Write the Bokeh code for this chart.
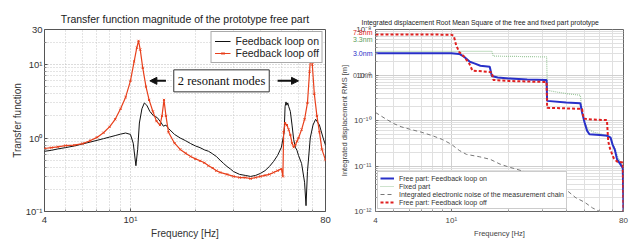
from bokeh.plotting import figure
from bokeh.layouts import row
from bokeh.models import (FixedTicker, Label, Arrow, NormalHead, Legend, LegendItem, Range1d,
                          LogAxis)
from bokeh.embed import file_html
from bokeh.resources import INLINE

# ---------------- Left chart data: transfer function magnitude ----------------
freq_on = [4.0, 4.3, 4.6, 5.0, 5.5, 6.0, 6.5, 7.0, 7.5, 8.0, 8.5, 9.0, 9.5, 10.0, 10.3, 10.6, 10.8,
           11.0, 11.3, 11.6, 11.9, 12.3, 12.8, 13.3, 13.8, 14.2, 14.6, 15.0, 16.0, 17.0, 18.0, 19.0,
           20.0, 21.0, 22.0, 23.0, 24.0, 25.0, 26.0, 27.0, 28.0, 29.0, 30.0, 32.0, 34.0, 36.0, 38.0,
           40.0, 42.0, 44.0, 46.0, 48.0, 50.0, 51.5, 52.0, 52.5, 53.0, 53.5, 54.0, 55.0, 56.0, 57.0,
           58.0, 59.0, 60.0, 62.0, 64.0, 65.0, 66.0, 68.0, 70.0, 72.0, 75.0, 78.0, 80.0]
tf_on = [0.66, 0.68, 0.71, 0.74, 0.78, 0.83, 0.88, 0.93, 0.98, 1.03, 1.08, 1.13, 1.17, 1.12, 0.85, 0.42, 0.70,
         1.6, 2.5, 3.0, 2.8, 2.3, 2.0, 1.9, 1.65, 1.45, 1.5, 1.35, 1.12, 1.0, 0.92, 0.84,
         0.78, 0.74, 0.69, 0.66, 0.61, 0.56, 0.50, 0.45, 0.41, 0.38, 0.35, 0.32, 0.31, 0.30, 0.31,
         0.33, 0.36, 0.41, 0.48, 0.58, 0.75, 1.2, 2.7, 3.1, 2.8, 3.0, 2.7, 2.3, 1.5, 0.95,
         0.75, 0.68, 0.58, 0.45, 0.25, 0.12, 0.35, 1.0, 1.5, 1.8, 1.5, 1.0, 0.8]

freq_off = [4.0, 4.3, 4.6, 5.0, 5.5, 6.0, 6.5, 7.0, 7.5, 8.0, 8.5, 9.0, 9.5, 10.0, 10.4, 10.7, 10.9,
            11.1, 11.4, 11.8, 12.2, 12.7, 13.2, 13.7, 14.0, 14.3, 14.6, 15.0, 16.0, 17.0, 18.0, 19.0,
            20.0, 21.0, 22.0, 23.0, 24.0, 25.0, 26.0, 28.0, 30.0, 32.0, 34.0, 36.0, 38.0, 40.0, 42.0,
            44.0, 46.0, 48.0, 50.0, 50.8, 51.2, 52.0, 53.0, 54.0, 55.0, 56.0, 57.0, 58.0, 59.0, 60.0,
            62.0, 64.0, 66.0, 67.5, 68.5, 69.5, 71.0, 73.0, 75.0, 77.0, 80.0]
tf_off = [0.72, 0.74, 0.76, 0.79, 0.80, 0.84, 0.92, 1.02, 1.18, 1.42, 1.8, 2.5, 3.6, 6.0, 11.0, 17.0, 21.0,
          16.0, 9.0, 5.0, 3.3, 2.3, 1.7, 1.5, 2.0, 3.3, 2.0, 1.2, 0.85, 0.70, 0.62, 0.56,
          0.52, 0.49, 0.46, 0.42, 0.39, 0.36, 0.34, 0.32, 0.30, 0.29, 0.29, 0.28, 0.29, 0.30, 0.31,
          0.32, 0.34, 0.36, 0.38, 0.30, 1.2, 1.6, 1.5, 1.3, 1.1, 0.85, 0.75, 0.80, 0.90, 1.0,
          1.3, 1.8, 3.0, 8.0, 15.0, 10.0, 4.0, 2.0, 1.2, 0.7, 0.5]

left_x_ticks = [4, 10, 80]
left_x_minor = [5, 6, 7, 8, 9, 20, 30, 40, 50, 60, 70]
left_x_labels = {4: "4", 10: "10\u00b9", 80: "80"}
left_y_ticks = [0.1, 1, 10, 30]
left_y_minor = [0.2, 0.3, 0.4, 0.5, 0.6, 0.7, 0.8, 0.9, 2, 3, 4, 5, 6, 7, 8, 9, 20]
left_y_labels = {0.1: "10\u207b\u00b9", 1: "10\u2070", 10: "10\u00b9", 30: "30"}

# ---------------- Right chart data: integrated displacement RMS ----------------
freq_free_on = [4.0, 10.0, 11.0, 11.7, 12.5, 13.2, 14.2, 15.9, 16.3, 17.5, 20.0, 25.0, 31.6, 31.8, 40.0,
                47.5, 48.5, 50.0, 51.5, 53.0, 60.0, 66.0, 68.5, 70.0, 72.0, 74.0, 77.0, 79.3, 79.8, 80.0]
rms_free_on = [3.0e-9, 3.0e-9, 2.9e-9, 2.5e-9, 1.95e-9, 1.8e-9, 1.6e-9, 1.52e-9, 0.95e-9, 0.88e-9, 0.84e-9,
               0.80e-9, 0.78e-9, 2.7e-10, 2.5e-10, 2.4e-10, 1.5e-10, 9e-11, 6e-11, 5e-11, 4.8e-11, 4.6e-11,
               4.2e-11, 3.0e-11, 2.3e-11, 1.4e-11, 1.1e-11, 9e-12, 2e-12, 1e-12]

freq_fixed = [4.0, 16.3, 16.6, 31.6, 31.9, 36.0, 42.0, 47.5, 48.5, 50.0, 52.0, 56.0, 62.0, 68.0, 72.0,
              75.0, 79.3, 79.8, 80.0]
rms_fixed = [3.3e-9, 3.3e-9, 2.6e-9, 2.5e-9, 4.6e-10, 4.2e-10, 3.8e-10, 3.6e-10, 1.6e-10, 9e-11, 6.5e-11,
             5.5e-11, 5e-11, 4.2e-11, 2.5e-11, 1.5e-11, 1e-11, 2e-12, 1e-12]

freq_noise = [4.0, 4.5, 5.0, 5.5, 6.0, 7.0, 8.0, 9.0, 10.0, 11.0, 12.0, 14.0, 16.0, 18.0, 20.0, 22.0,
              25.0, 30.0, 35.0, 40.0, 45.0, 50.0, 55.0, 60.0, 65.0]
rms_noise = [1.5e-10, 1.1e-10, 8.5e-11, 7.2e-11, 6.5e-11, 5.5e-11, 4.6e-11, 3.8e-11, 3.0e-11, 2.2e-11,
             1.8e-11, 1.6e-11, 1.4e-11, 1.1e-11, 9.5e-12, 8.5e-12, 7.2e-12, 5.5e-12, 4.2e-12, 3.0e-12,
             2.0e-12, 1.6e-12, 1.2e-12, 1.0e-12, 8e-13]

freq_free_off = [4.0, 10.0, 10.3, 10.6, 11.0, 11.6, 12.4, 12.9, 14.5, 16.3, 16.6, 20.0, 25.0, 31.6, 31.8,
                 40.0, 48.5, 49.5, 55.0, 65.5, 66.5, 68.0, 71.0, 74.0, 79.3, 79.8, 80.0]
rms_free_off = [7.8e-9, 7.7e-9, 7.2e-9, 4.5e-9, 3.2e-9, 2.6e-9, 1.8e-9, 1.25e-9, 1.2e-9, 1.15e-9, 0.78e-9,
                0.74e-9, 0.72e-9, 0.70e-9, 1.9e-10, 1.85e-10, 1.8e-10, 1.1e-10, 1.05e-10, 1.02e-10, 3.5e-11,
                2.4e-11, 1.5e-11, 1.25e-11, 1.2e-11, 2e-12, 1e-12]

right_y_ticks = [1e-12, 1e-11, 1e-10, 1e-9, 1e-8]
right_y_minor = [m * d for d in [1e-12, 1e-11, 1e-10, 1e-9] for m in range(2, 10)]
right_y_labels = {1e-12: "10\u207b\u00b9\u00b2", 1e-11: "10\u207b\u00b9\u00b9", 1e-10: "10\u207b\u00b9\u2070",
                  1e-9: "10\u207b\u2079", 1e-8: "10\u207b\u2078"}
rms_notes = ["7.8nm", "3.3nm", "3.0nm", "0.1nm"]
rms_note_pos = [8.6e-9, 5.9e-9, 3.0e-9, 1.0e-9]

FONT = "Liberation Sans"
H = 242

# ---------------- Left figure ----------------
p1 = figure(width=336, height=H, x_axis_type="log", y_axis_type="log",
            x_range=Range1d(4, 80), y_range=Range1d(0.1, 30),
            output_backend="svg", toolbar_location=None,
            min_border_left=44, min_border_right=11, min_border_top=29, min_border_bottom=28)
p1.title.text = "Transfer function magnitude of the prototype free part"
p1.title.align = "center"
p1.title.text_font = FONT
p1.title.text_font_size = "10.5px"
p1.title.text_font_style = "normal"
p1.title.text_color = "#222222"
p1.title.standoff = 10
p1.outline_line_color = "#555555"

l_on = p1.line(freq_on, tf_on, line_color="#111111", line_width=1)
l_off = p1.line(freq_off, tf_off, line_color="#e8401c", line_width=1.2)
s_off = p1.scatter(freq_off, tf_off, marker="x", size=3, line_color="#e8401c", line_width=1)

p1.xaxis.ticker = FixedTicker(ticks=left_x_ticks, minor_ticks=left_x_minor)
p1.yaxis.ticker = FixedTicker(ticks=left_y_ticks, minor_ticks=left_y_minor)
p1.xaxis.major_label_overrides = left_x_labels
p1.yaxis.major_label_overrides = left_y_labels
p1.xaxis.axis_label = "Frequency [Hz]"
p1.yaxis.axis_label = "Transfer function"
for ax in (p1.xaxis[0], p1.yaxis[0]):
    ax.axis_label_text_font = FONT
    ax.axis_label_text_font_size = "10px"
    ax.axis_label_text_font_style = "normal"
    ax.axis_label_text_color = "#333333"
    ax.major_label_text_font = FONT
    ax.major_label_text_font_size = "9.5px"
    ax.major_label_text_color = "#333333"
    ax.axis_line_color = None
    ax.major_tick_out = 0
    ax.major_tick_in = 3
    ax.minor_tick_out = 0
    ax.minor_tick_in = 2
    ax.major_tick_line_color = "#555555"
    ax.minor_tick_line_color = "#888888"
    ax.major_label_standoff = 2
    ax.axis_label_standoff = 0
for g in (p1.xgrid[0], p1.ygrid[0]):
    g.grid_line_color = "#b8b8b8"
    g.grid_line_dash = "1 2"
    g.minor_grid_line_color = "#c8c8c8"
    g.minor_grid_line_dash = "1 2"

leg1 = Legend(items=[LegendItem(label="Feedback loop on", renderers=[l_on]),
                     LegendItem(label="Feedback loop off", renderers=[l_off, s_off])],
              location="top_right", label_text_font=FONT, label_text_font_size="10.5px",
              label_text_color="#222222", glyph_width=16, glyph_height=10, label_height=11,
              spacing=0, padding=3, margin=2, border_line_color="#555555",
              background_fill_alpha=1.0)
p1.add_layout(leg1)

p1.add_layout(Label(x=26.4, y=6.0, text="2 resonant modes", text_align="center",
                    text_baseline="middle", text_font="Liberation Serif", text_font_size="12.5px",
                    text_color="#111111", background_fill_color="white",
                    border_line_color="#333333", border_line_width=1, padding=4))
p1.add_layout(Arrow(end=NormalHead(size=7, fill_color="#111111", line_color="#111111"),
                    x_start=14.6, y_start=6.0, x_end=12.3, y_end=6.0,
                    line_color="#111111", line_width=2))
p1.add_layout(Arrow(end=NormalHead(size=7, fill_color="#111111", line_color="#111111"),
                    x_start=48.0, y_start=6.0, x_end=60.0, y_end=6.0,
                    line_color="#111111", line_width=2))

# ---------------- Right figure ----------------
p2 = figure(width=296, height=H, x_axis_type="log", y_axis_type="log",
            x_range=Range1d(4, 80), y_range=Range1d(1e-12, 1e-8),
            output_backend="svg", toolbar_location=None,
            min_border_left=36, min_border_right=9, min_border_top=26, min_border_bottom=31)
p2.title.text = "Integrated displacement Root Mean Square of the free and fixed part prototype"
p2.title.align = "left"
p2.title.offset = -14
p2.title.text_font = FONT
p2.title.text_font_size = "6.8px"
p2.title.text_font_style = "normal"
p2.title.text_color = "#222222"
p2.title.standoff = 8
p2.outline_line_color = "#666666"

r_fixed = p2.line(freq_fixed, rms_fixed, line_color="#9cc79c", line_width=1.2, line_dash="1 1")
r_noise = p2.line(freq_noise, rms_noise, line_color="#777777", line_width=1, line_dash="4 3")
r_on = p2.line(freq_free_on, rms_free_on, line_color="#2830c8", line_width=2)
r_off = p2.line(freq_free_off, rms_free_off, line_color="#e02020", line_width=2, line_dash="3 2")

p2.xaxis.ticker = FixedTicker(ticks=left_x_ticks, minor_ticks=left_x_minor)
p2.yaxis.ticker = FixedTicker(ticks=right_y_ticks, minor_ticks=right_y_minor)
p2.xaxis.major_label_overrides = left_x_labels
p2.yaxis.major_label_overrides = right_y_labels
p2.xaxis.axis_label = "Frequency [Hz]"
for ax in (p2.xaxis[0], p2.yaxis[0]):
    ax.axis_label_text_font = FONT
    ax.axis_label_text_font_size = "7.5px"
    ax.axis_label_text_font_style = "normal"
    ax.axis_label_text_color = "#444444"
    ax.major_label_text_font = FONT
    ax.major_label_text_font_size = "8px"
    ax.major_label_text_color = "#444444"
    ax.axis_line_color = None
    ax.major_tick_out = 0
    ax.major_tick_in = 3
    ax.minor_tick_out = 0
    ax.minor_tick_in = 2
    ax.major_tick_line_color = "#777777"
    ax.minor_tick_line_color = "#999999"
    ax.major_label_standoff = 4
    ax.axis_label_standoff = 1
for g in (p2.xgrid[0], p2.ygrid[0]):
    g.grid_line_color = "#cfcfcf"
    g.minor_grid_line_color = "#e0e0e0"

# value notes left of the frame: one tick-only axis per note, overlapping the decade labels
note_colors = ["#e02020", "#5a9a5a", "#2830c8", "#555555"]
for txt, pos, col in zip(rms_notes, rms_note_pos, note_colors):
    nax = LogAxis(ticker=FixedTicker(ticks=[pos], minor_ticks=[]),
                  major_label_overrides={pos: txt},
                  major_label_text_font=FONT, major_label_text_font_size="7px",
                  major_label_text_color=col, major_label_standoff=-22,
                  axis_line_color=None, major_tick_line_color=None, minor_tick_line_color=None,
                  major_tick_out=0, major_tick_in=0, minor_tick_out=0, minor_tick_in=0)
    p2.add_layout(nax, "left")

label_axis = LogAxis(ticker=FixedTicker(ticks=[], minor_ticks=[]),
                     axis_label="Integrated displacement RMS [m]",
                     axis_label_text_font=FONT, axis_label_text_font_size="7.5px",
                     axis_label_text_font_style="normal", axis_label_text_color="#444444",
                     axis_label_standoff=2, axis_line_color=None, major_tick_line_color=None,
                     minor_tick_line_color=None, major_tick_out=0, major_tick_in=0,
                     minor_tick_out=0, minor_tick_in=0)
p2.add_layout(label_axis, "left")

leg2 = Legend(items=[LegendItem(label="Free part: Feedback loop on", renderers=[r_on]),
                     LegendItem(label="Fixed part", renderers=[r_fixed]),
                     LegendItem(label="Integrated electronic noise of the measurement chain", renderers=[r_noise]),
                     LegendItem(label="Free part: Feedback loop off", renderers=[r_off])],
              location="bottom_left", label_text_font=FONT, label_text_font_size="7px",
              label_text_color="#333333", glyph_width=14, glyph_height=8, label_height=8,
              spacing=0, padding=2, margin=2, border_line_color="#999999",
              background_fill_alpha=1.0)
p2.add_layout(leg2)

layout = row(p1, p2)
open("out.html", "w").write(file_html(layout, INLINE))
